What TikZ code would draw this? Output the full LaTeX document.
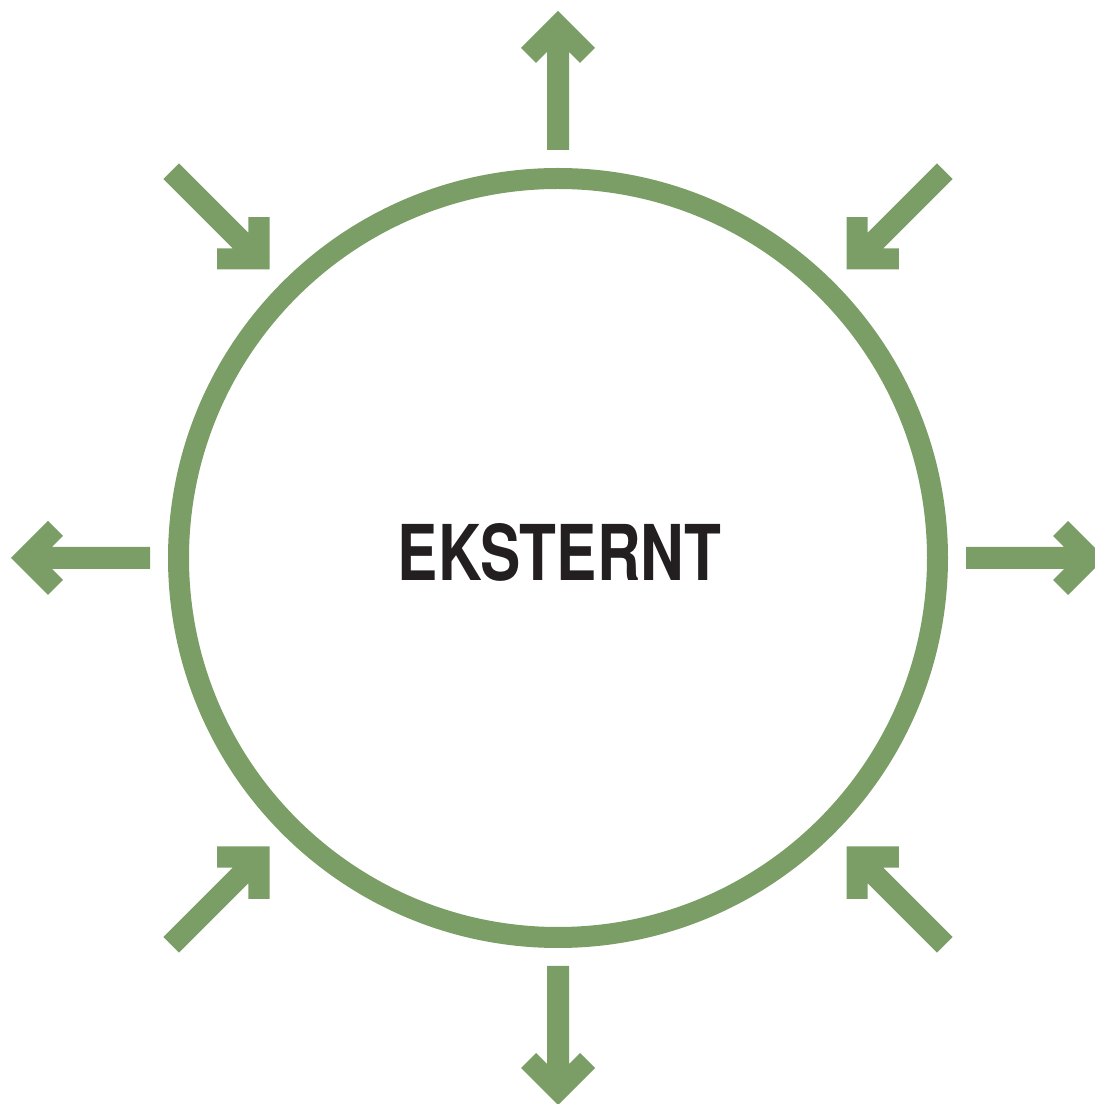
\documentclass[tikz,border=0pt]{standalone}
\usepackage{fontspec}
\setmainfont{Liberation Sans}
\newfontfamily\lblfont{TeX Gyre Heros}
\usepackage{graphicx}
\usetikzlibrary{calc}
\definecolor{arrowgreen}{RGB}{122,158,101}
\definecolor{textblack}{RGB}{35,31,32}
\tikzset{
  arr/.pic={\fill[arrowgreen] (0pt,0pt) -- (37pt,-37pt) -- (22pt,-52pt) -- (11pt,-41pt) -- (11pt,-139pt) -- (-11pt,-139pt) -- (-11pt,-41pt) -- (-22pt,-52pt) -- (-37pt,-37pt) -- cycle;},
  ring/.style={draw=arrowgreen, line width=21pt},
  label/.style={inner sep=0pt, text=textblack, font=\lblfont\bfseries}
}
\begin{document}
\begin{tikzpicture}[x=1pt,y=1pt]
\useasboundingbox (0,0) rectangle (1095,1104);
\coordinate (c) at (558,546);
\draw[ring] (c) circle (379.5);
\node[label] (t) at (559.5,551.5) {\resizebox{323pt}{57pt}{EKSTERNT}};
% outward arrows
\pic at ($(c)+(0,547)$) {arr};
\pic[rotate=-90] at ($(c)+(547,0)$) {arr};
\pic[rotate=180] at ($(c)+(0,-547)$) {arr};
\pic[rotate=90] at ($(c)+(-547,0)$) {arr};
% inward arrows
\pic[rotate=-135] at ($(c)+(-288.5,288.5)$) {arr};
\pic[rotate=135] at ($(c)+(288.5,288.5)$) {arr};
\pic[rotate=-45] at ($(c)+(-288.5,-288.5)$) {arr};
\pic[rotate=45] at ($(c)+(288.5,-288.5)$) {arr};
\end{tikzpicture}
\end{document}
